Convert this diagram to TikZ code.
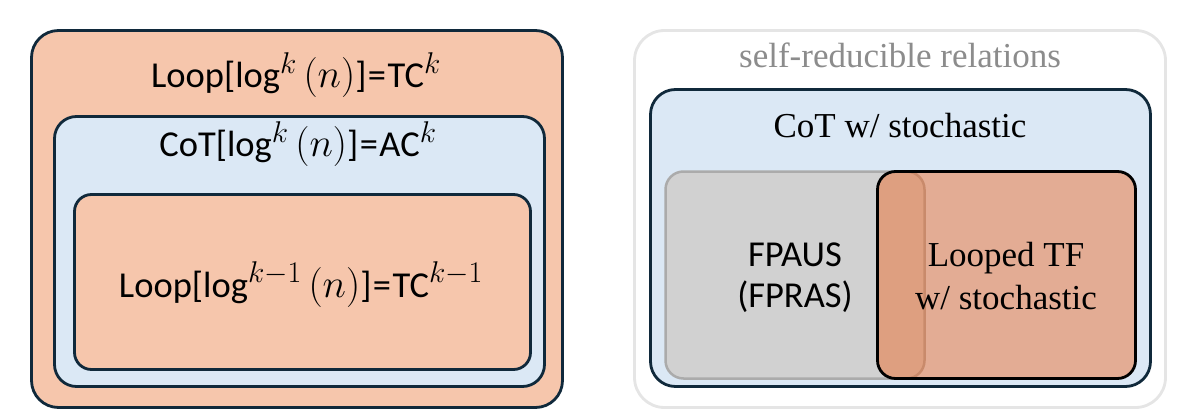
\documentclass[tikz,border=0pt]{standalone}
\usepackage{fix-cm}
\usepackage{fontspec}
\setmainfont{Carlito}
\newfontfamily\tmfont{Liberation Serif}
\DeclareMathSizes{36.5}{40}{30}{22}
\definecolor{bord}{HTML}{10293B}
\definecolor{peach}{HTML}{F6C6AC}
\definecolor{lblue}{HTML}{DBE8F5}
\definecolor{gbord}{HTML}{E5E5E5}
\definecolor{gfill}{HTML}{D1D1D1}
\definecolor{gline}{HTML}{ABABAB}
\definecolor{tfor}{RGB}{238,100,30}
\definecolor{txtgray}{HTML}{8C8C8C}
\begin{document}
\begin{tikzpicture}[x=1pt,y=-1pt,
  box/.style={draw=bord,line width=2.8pt,inner sep=0pt,outer sep=0pt},
  sanslbl/.style={anchor=base,inner sep=0pt,font=\fontsize{36.5}{43}\selectfont},
  seriflbl/.style={anchor=base,inner sep=0pt,font=\tmfont\fontsize{35}{42}\selectfont}]
\useasboundingbox (0,0) rectangle (1187,420);
% left
\node[box,fill=peach,rounded corners=27pt,minimum width=531pt,minimum height=377pt] (lout) at (297,219) {};
\node[box,fill=lblue,rounded corners=22pt,minimum width=490pt,minimum height=270pt] (lmid) at (299.5,251.5) {};
\node[box,fill=peach,rounded corners=17pt,minimum width=456pt,minimum height=175pt] (lin) at (302.5,282) {};
\node[sanslbl] (t1) at (296,88) {Loop[log$^{k}\,(n)$]\kern1.5pt=\kern1.5ptTC$^{k}$};
\node[sanslbl] (t2) at (298,157) {CoT[log$^{k}\,(n)$]\kern1.5pt=\kern1.5ptAC$^{k}$};
\node[sanslbl] (t3) at (301,297) {Loop[log$^{k-1}\,(n)$]\kern1.5pt=\kern1.5ptTC$^{k-1}$};
% right
\node[draw=gbord,line width=2.8pt,fill=white,rounded corners=30pt,minimum width=531pt,minimum height=377pt,inner sep=0pt] (rout) at (900,219) {};
\node[seriflbl,text=txtgray] (t4) at (900,67) {self-reducible relations};
\node[box,fill=lblue,rounded corners=25pt,minimum width=500pt,minimum height=297pt] (rmid) at (900.5,238) {};
\node[seriflbl] (t5) at (900,137) {CoT w/ stochastic};
\node[draw=gline,line width=2.5pt,fill=gfill,rounded corners=18pt,minimum width=259pt,minimum height=207pt,inner sep=0pt] (fp) at (795,275) {};
\node[draw=black,line width=2.8pt,fill=tfor,fill opacity=0.45,draw opacity=1,rounded corners=18pt,minimum width=258pt,minimum height=207pt,inner sep=0pt] (lt) at (1006.5,275) {};
\node[sanslbl] (t6) at (795,266) {FPAUS};
\node[sanslbl] (t7) at (795,307) {(FPRAS)};
\node[seriflbl] (t8) at (1006,266) {Looped TF};
\node[seriflbl] (t9) at (1006,309) {w/ stochastic};
\end{tikzpicture}
\end{document}
